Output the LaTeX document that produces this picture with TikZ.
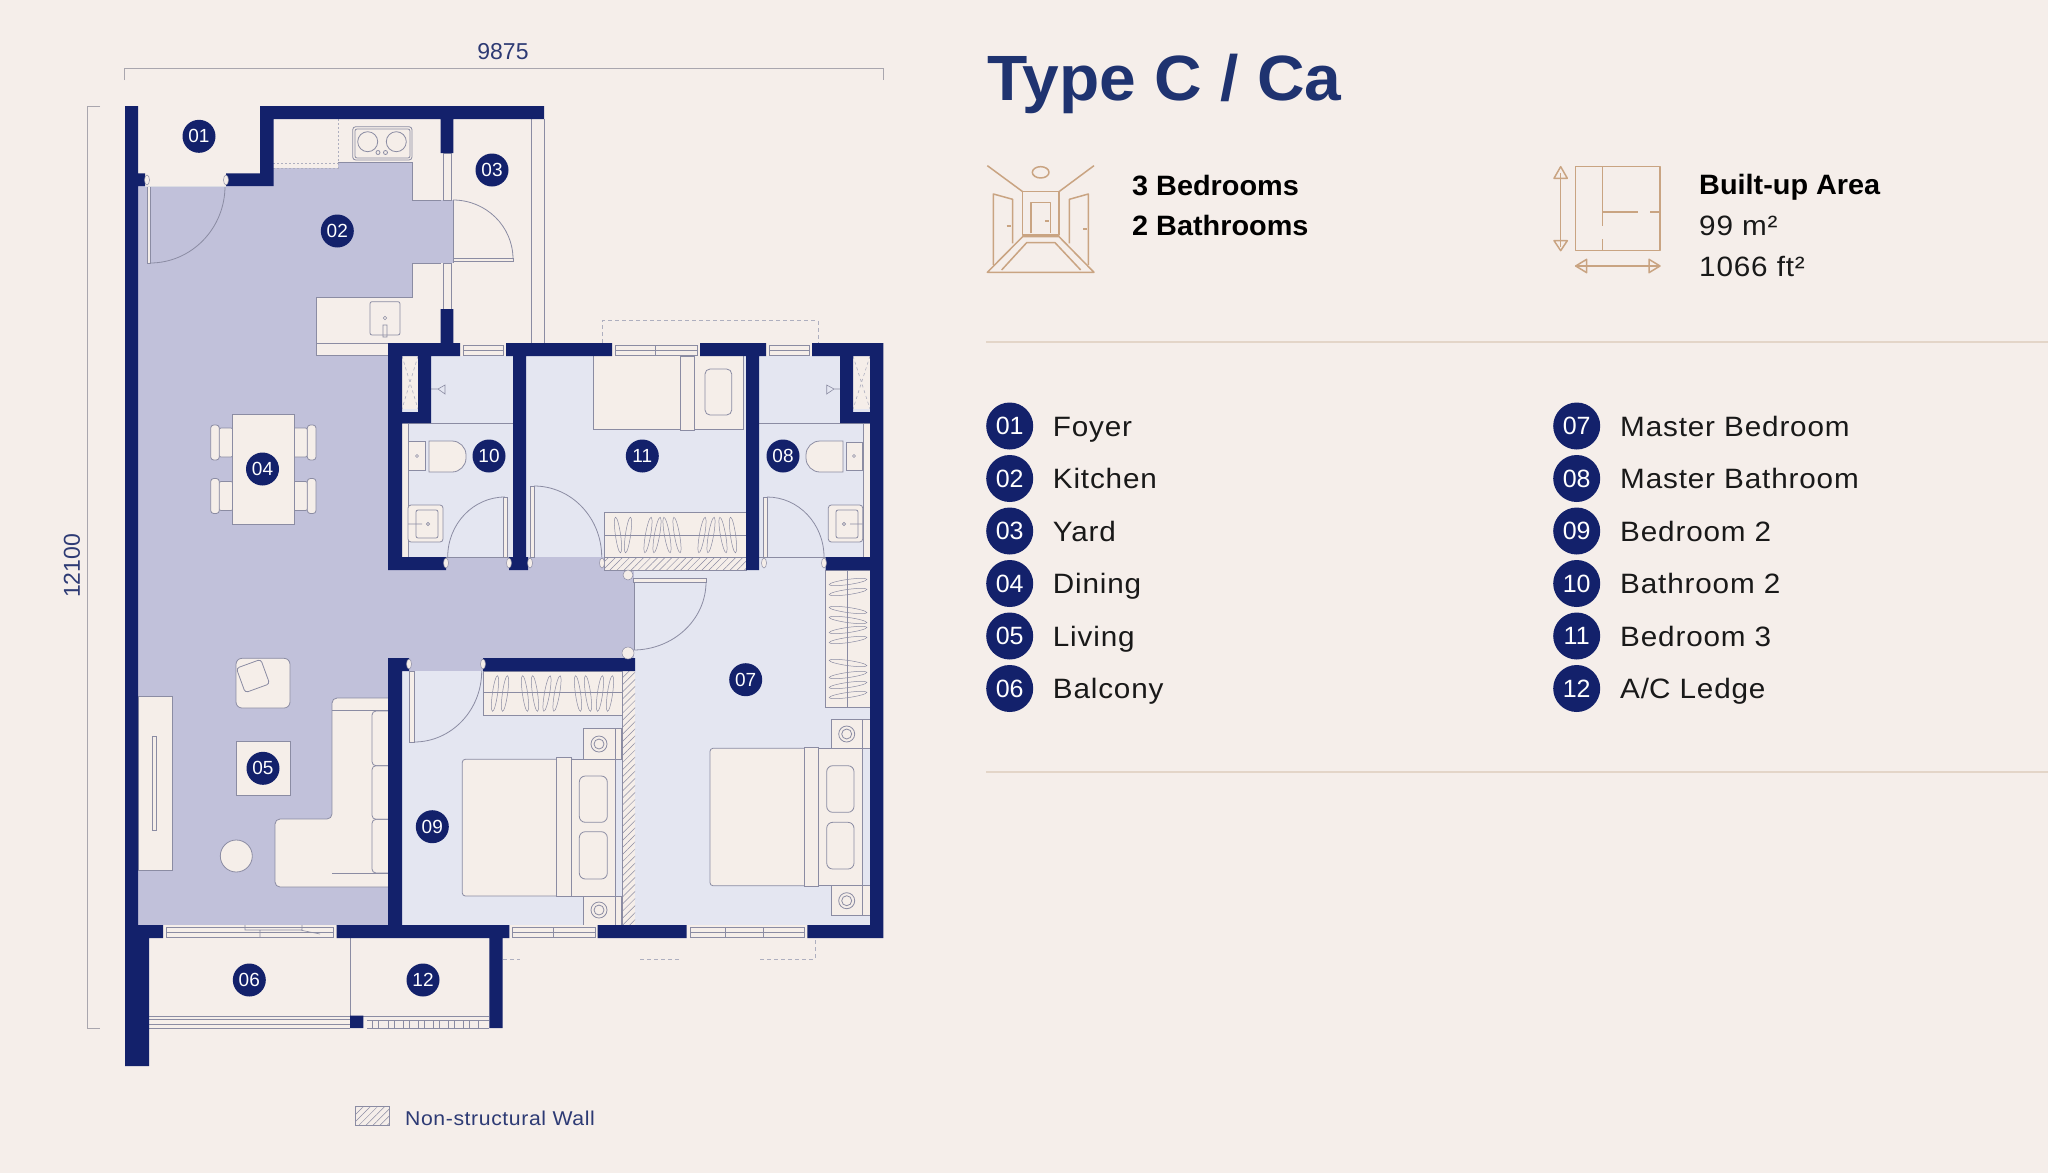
\documentclass[tikz,border=0pt]{standalone}
\usepackage{fontspec}
\usetikzlibrary{calc,patterns.meta}
\setmainfont{Liberation Sans}
\newfontfamily\lblf[FakeStretch=1.06,LetterSpace=3]{Liberation Sans}
\newfontfamily\hdrf[FakeStretch=1.03]{Liberation Sans}
\definecolor{bgc}{HTML}{F5EEEA}
\definecolor{navy}{HTML}{13216B}
\definecolor{purp}{HTML}{C1C1DA}
\definecolor{lite}{HTML}{E4E6F1}
\definecolor{cream}{HTML}{F5EEE9}
\definecolor{lineg}{HTML}{8B8CA3}
\definecolor{dimg}{HTML}{A9A6AE}
\definecolor{tan}{HTML}{C9A482}
\definecolor{rulec}{HTML}{E3D5C8}
\definecolor{titlec}{HTML}{1F3370}
\definecolor{dimt}{HTML}{2D3A74}
\tikzset{
  ln/.style={draw=lineg,line width=.8pt},
  faint/.style={draw=lineg!70,line width=.6pt},
  furn/.style={fill=cream,draw=lineg,line width=.8pt},
  dimln/.style={draw=dimg,line width=.9pt},
  iconln/.style={draw=tan,line width=1.5pt,line join=round},
  plabel/.style={circle,fill=navy,text=white,minimum size=33pt,inner sep=0pt,font=\fontsize{19}{20}\selectfont},
  keyb/.style={circle,fill=navy,text=white,minimum size=47pt,inner sep=0pt,font=\fontsize{25}{26}\selectfont},
  keyt/.style={anchor=base west,inner sep=0pt,text=black!90,font=\lblf\fontsize{28}{32}\selectfont},
  hatchf/.style={pattern={Lines[angle=45,distance=5pt,line width=.5pt]},pattern color=lineg},
}
\newcommand\qarc[3]{\draw[ln] #1 .. controls ($#1!0.5523!#2$) and ($#3!0.5523!#2$) .. #3;}
\newcommand\hang[3]{\draw[draw=lineg,line width=.5pt,rotate around={#3:(#1,#2)}] (#1,#2) ellipse (2.6 and 18);}
\newcommand\hangh[3]{\draw[draw=lineg,line width=.5pt,rotate around={#3:(#1,#2)}] (#1,#2) ellipse (19 and 2.6);}
\newcommand\hwin[3]{\fill[cream] (#1,#3) rectangle (#2,#3+13);
  \draw[ln,line width=.6pt] (#1+3,#3+2) rectangle (#2-3,#3+12) (#1+3,#3+7) -- (#2-3,#3+7);}
\newcommand\vwin[2]{\fill[cream] (441,#1) rectangle (453,#2);
  \draw[ln,line width=.6pt] (443,#1) rectangle (451,#2);}
\newcommand\jamb[2]{\draw[fill=cream,draw=lineg,line width=.5pt] (#1,#2) ellipse (2.5 and 5);}
\begin{document}
\begin{tikzpicture}[x=1pt,y=-1pt]
\useasboundingbox (0,0) rectangle (2048,1173);
\fill[bgc] (0,0) rectangle (2048,1173);

% --- dimensions
\draw[dimln] (124.5,80) -- (124.5,68) -- (883,68) -- (883,80);
\draw[dimln] (100,106) -- (87.5,106) -- (87.5,1028) -- (100,1028);
\node[text=dimt,font=\fontsize{23}{24}\selectfont,inner sep=0pt] (dimw) at (503,52) {9875};
\node[text=dimt,font=\fontsize{23}{24}\selectfont,inner sep=0pt,rotate=90] (dimh) at (72,566) {12100};

% --- floor fills
\fill[purp] (138,186) -- (273,186) -- (273,168) -- (338,168) -- (338,162) -- (412,162) -- (412,200) -- (453,200) -- (453,263) -- (412,263) -- (412,297) -- (316,297) -- (316,355) -- (388,355) -- (388,557) -- (634,557) -- (634,671) -- (402,671) -- (402,925) -- (138,925) -- cycle;
\fill[lite] (402,671) rectangle (622,925);
\fill[lite] (634,557) rectangle (870,925);
\fill[lite] (402,356) rectangle (513,557);
\fill[lite] (526,356) rectangle (746,557);
\fill[lite] (759,356) rectangle (870,557);

% --- kitchen
\draw[ln] (338,162) -- (412,162) -- (412,200) -- (441,200);
\draw[ln] (441,263) -- (412,263) -- (412,297) -- (316,297) -- (316,355) -- (388,355);
\draw[ln] (316,343) -- (388,343);
\draw[faint,dashed,dash pattern=on 2pt off 2pt] (338,119) -- (338,168) -- (273,168);
\draw[faint,dash pattern=on 2pt off 2pt] (273,163) -- (338,163);
\draw[furn,rounded corners=3pt] (352.7,126.7) rectangle (412,160);
\draw[ln,rounded corners=2pt] (355,129) rectangle (410,158);
\draw[ln] (367.7,141.7) circle (10) (396.3,141.7) circle (10) (378,152.5) circle (2) (385.5,152.5) circle (2);
\draw[ln,rounded corners=2pt] (370,301.7) rectangle (400,335);
\draw[ln,line width=.6pt] (385,318) circle (1.8) (383,325) rectangle (387,337);
% yard
\draw[ln] (531,119) -- (531,343) (544,119) -- (544,343);
\draw[ln] (453,200) -- (453,263);
\vwin{153}{200}\vwin{263}{309}
\draw[furn,line width=.6pt] (453,258) rectangle (513,261);
\qarc{(453,200)}{(513,200)}{(513,259)}
% foyer door
\draw[furn,line width=.6pt] (147,186) rectangle (150,263);
\qarc{(150,263)}{(225,263)}{(225,186)}
\draw[draw=white!70!lineg,line width=.6pt] (145,186) -- (226,186);

% --- living / dining furniture
\foreach \yy in {425,478.5}{
  \draw[furn,rounded corners=2pt] (219,\yy+3) rectangle (233,\yy+32);
  \draw[furn,rounded corners=3pt] (210.7,\yy) rectangle (219.3,\yy+35);
  \draw[furn,rounded corners=2pt] (293,\yy+3) rectangle (307.5,\yy+32);
  \draw[furn,rounded corners=3pt] (307.3,\yy) rectangle (316,\yy+35);
}
\draw[furn] (232.3,414) rectangle (294,524);
\draw[furn,rounded corners=6pt] (236,658.3) rectangle (290,708);
\draw[furn,rounded corners=3pt,rotate around={20:(253,676)}] (240,663) rectangle (266,689);
\draw[furn] (236,741.7) rectangle (290,795.7);
\draw[furn] (236.3,856) circle (16);
\draw[furn] (138,696.7) rectangle (172.3,870.7);
\draw[ln,line width=.6pt] (152.3,736) rectangle (156.3,830.7);
\draw[furn,rounded corners=5pt] (388,698) -- (332,698) -- (332,819) -- (275,819) -- (275,887) -- (388,887);
\draw[ln,rounded corners=4pt] (388,710.7) -- (332,710.7);
\draw[ln,rounded corners=4pt] (388,873) -- (332,873);
\draw[ln,rounded corners=4pt] (388,711) -- (372,711) -- (372,765.7) -- (388,765.7);
\draw[ln,rounded corners=4pt] (388,765.7) -- (372,765.7) -- (372,819.3) -- (388,819.3);
\draw[ln,rounded corners=4pt] (388,819.3) -- (372,819.3) -- (372,873) -- (388,873);

% --- bathroom 2
\fill[cream] (402,423) rectangle (408,557);
\draw[ln] (408,423) -- (408,557);
\draw[ln] (402,423) -- (513,423);
\draw[ln] (402,557) -- (513,557);
\fill[cream] (402,356) rectangle (418,409);
\draw[faint,dashed,dash pattern=on 3pt off 3pt] (402,356) -- (418,409) (418,356) -- (402,409);
\draw[ln,line width=.6pt] (431,389) -- (438,389) (438,389) -- (445,385) -- (445,394) -- cycle;
\draw[furn] (408,441.7) rectangle (425,470);
\draw[furn] (429,441) {[rounded corners=14pt] -- (466,441) -- (466,472)} -- (429,472) -- cycle;
\draw[ln,line width=.6pt] (417,456) circle (1.5);
\draw[furn,rounded corners=3pt] (408,505) rectangle (443,542);
\draw[ln,rounded corners=2pt] (416,510) rectangle (438,538);
\draw[ln,line width=.6pt] (408,524) -- (422,524) (428,524) circle (1.6);
\draw[furn,line width=.6pt] (503,497) rectangle (507,557);
\qarc{(447.7,557)}{(447.7,497)}{(505,497)}

% --- master bathroom
\fill[cream] (863,423) rectangle (870,557);
\draw[ln] (863,423) -- (863,557);
\draw[ln] (759,423) -- (840,423) (840,423) -- (870,423);
\draw[ln] (759,557) -- (826,557);
\fill[cream] (853,356) rectangle (870,409);
\draw[faint,dashed,dash pattern=on 3pt off 3pt] (853,356) -- (870,409) (870,356) -- (853,409);
\draw[ln,line width=.6pt] (840,389) -- (834,389) (834,389) -- (826.7,385) -- (826.7,394) -- cycle;
\draw[furn] (846,442) rectangle (862.7,470);
\draw[furn] (843,441) {[rounded corners=14pt] -- (806,441) -- (806,472)} -- (843,472) -- cycle;
\draw[ln,line width=.6pt] (854,456) circle (1.5);
\draw[furn,rounded corners=3pt] (828.3,505) rectangle (862.7,542);
\draw[ln,rounded corners=2pt] (836,510) rectangle (858,538);
\draw[ln,line width=.6pt] (862.7,524) -- (850,524) (844,524) circle (1.6);
\draw[furn,line width=.6pt] (763,497) rectangle (767,557);
\qarc{(767,497)}{(824,497)}{(824,557)}

% --- bedroom 3
\draw[furn] (593,356) -- (593,429) -- (743,429) -- (743,356);
\draw[furn] (680.7,356) rectangle (694,430);
\draw[furn,rounded corners=5pt] (705,369) rectangle (731.7,415);
\draw[furn,line width=.6pt] (530.7,486) rectangle (534,557);
\qarc{(534,486)}{(601.7,486)}{(601.7,557)}
\draw[furn] (604,512.3) rectangle (746,557);
\draw[ln,line width=.6pt] (604,535) -- (746,535);
\foreach \hx/\ha in {618/8,628/-8,648/-10,657/-10,667/10,677/10,702/-10,711/-10,723/10,733/8}{\hang{\hx}{535}{\ha}}

% --- bedroom 2
\draw[furn,line width=.6pt] (409.3,671) rectangle (414,742.3);
\qarc{(414,742)}{(481.7,742)}{(481.7,671)}
\draw[furn] (483.3,671) rectangle (622,715.7);
\draw[ln,line width=.6pt] (483.3,692.3) -- (622,692.3);
\foreach \hx/\ha in {495/-8,505/-8,525/8,535/8,547/-10,557/-10,578/8,588/8,600/-8,610/-8}{\hang{\hx}{693.5}{\ha}}
\draw[furn] (583.3,728.3) rectangle (621.7,759.3);
\draw[furn] (583.3,896) rectangle (621.7,925);
\draw[ln] (599,744) circle (8) (599,744) circle (5);
\draw[ln] (599,910) circle (8) (599,910) circle (5);
\draw[ln] (615,728) -- (615,925);
\draw[furn,rounded corners=3pt] (462.3,759.3) rectangle (576,896);
\draw[furn] (556,757.5) rectangle (571.7,896.5);
\draw[furn] (571.7,759.3) rectangle (615,896);
\draw[furn,rounded corners=6pt] (579.3,776) rectangle (607.3,822.3);
\draw[furn,rounded corners=6pt] (579.3,831.7) rectangle (607.3,879);

% --- master bedroom
\draw[furn] (831.7,719) rectangle (870,748.3);
\draw[furn] (831.7,885.7) rectangle (870,915.7);
\draw[ln] (846.7,734) circle (8) (846.7,734) circle (5);
\draw[ln] (846.7,900.7) circle (8) (846.7,900.7) circle (5);
\draw[ln] (862.3,719) -- (862.3,916);
\draw[furn,rounded corners=3pt] (710,748.3) rectangle (808,885.7);
\draw[furn] (804,747) rectangle (818.3,886.5);
\draw[furn] (818.3,748.3) rectangle (862.3,885.7);
\draw[furn,rounded corners=6pt] (826.7,765.7) rectangle (854,812.3);
\draw[furn,rounded corners=6pt] (826.7,822.3) rectangle (854,869);
\draw[furn] (825.7,570) rectangle (870,707.7);
\draw[ln,line width=.6pt] (847.7,570) -- (847.7,707.7);
\foreach \hy/\ha in {582/8,592/8,610/-8,620/-8,630/8,640/8,663/-8,675/8,685/8,695/8}{\hangh{848}{\hy}{\ha}}
\draw[furn,line width=.6pt] (633,578) rectangle (706,582);
\qarc{(706,582)}{(706,650)}{(633,650)}
\draw[ln] (634,582) -- (634,650);

% --- non-structural walls
\fill[cream] (622,671) rectangle (635,925);
\fill[cream] (604,557) rectangle (746,570);
\fill[hatchf] (622,671) rectangle (635,925);
\fill[hatchf] (604,557) rectangle (746,570);
\draw[ln,line width=.6pt] (622,671) -- (622,925);
\draw[ln,line width=.6pt] (604,557) rectangle (746,570);

% --- windows
\hwin{460}{506}{343}
\hwin{612}{700}{343}
\draw[ln,line width=.6pt] (655,345) -- (655,355);
\hwin{766}{812}{343}
\hwin{509}{598}{925}
\draw[ln,line width=.6pt] (553,927) -- (553,937);
\hwin{687}{807}{925}
\draw[ln,line width=.6pt] (725.7,927) -- (725.7,937) (763,927) -- (763,937);
\hwin{163}{336}{925}
\draw[ln,line width=.6pt] (245,925) -- (245,930) -- (302,930) -- (302,925) (260,930) -- (260,937) (300,930) -- (320,934);

% --- balcony
\draw[ln,line width=.6pt] (350,938) -- (350,1016);
\foreach \ry in {1016,1019.5,1024,1028}{\draw[ln,line width=.6pt] (149,\ry) -- (350,\ry);}
\draw[ln,line width=.6pt] (363,1016) -- (489,1016) (367,1020) -- (489,1020) (367,1028) -- (489,1028);
\foreach \tx in {372,378,388,394,403,409,418,424,433,439,448,454,463,469,478}{\draw[ln,line width=.5pt] (\tx,1020) -- (\tx,1028);}

% --- faint outlines outside the unit
\draw[faint,dashed,dash pattern=on 4pt off 3pt] (602.7,343) -- (602.7,320.7) -- (818.3,320.7) -- (818.3,343);
\draw[faint,dashed,dash pattern=on 4pt off 3pt] (503,959) -- (520,959) (640,959) -- (680,959) (760,959) -- (815,959) -- (815,938);

% --- structural walls
\fill[navy]
  (125,106) rectangle (138,925)
  (125,925) rectangle (149,1066)
  (125,925) rectangle (163,938)
  (138,173.3) rectangle (145,186)
  (260,106) rectangle (544,119)
  (260,106) rectangle (273.5,186)
  (226,173.3) rectangle (273.5,186)
  (440.7,119) rectangle (453.3,153)
  (440.7,309) rectangle (453.3,343)
  (388,343) rectangle (460,356)
  (506,343) rectangle (612,356)
  (700,343) rectangle (766,356)
  (812,343) rectangle (883.3,356)
  (388,343) rectangle (402,570)
  (388,557) rectangle (446,570)
  (418,356) rectangle (431,423)
  (402,412) rectangle (431,423)
  (509,557) rectangle (528,570)
  (513,343) rectangle (526,570)
  (746,343) rectangle (759,570)
  (840,343) rectangle (853,423)
  (840,412) rectangle (870,423)
  (870,343) rectangle (883.3,938)
  (825.7,557) rectangle (870,570)
  (388,658) rectangle (402,938)
  (388,658) rectangle (409,671)
  (483,658) rectangle (635,671)
  (336.5,925) rectangle (509.3,938)
  (597.7,925) rectangle (686.7,938)
  (807.3,925) rectangle (883.3,938)
  (489.3,938) rectangle (502.7,1028)
  (350,1015.7) rectangle (363.3,1028);

% --- jambs
\jamb{147}{180}\jamb{226}{180}\jamb{446}{563}\jamb{509}{563}\jamb{530}{563}\jamb{602}{563}\jamb{764}{563}\jamb{824}{563}\jamb{409}{664}\jamb{483}{664}
\draw[fill=cream,draw=lineg,line width=.5pt] (628,653) circle (6) (628,575) circle (5);

% --- plan labels
\node[plabel] (p01) at (199,136.3) {01};
\node[plabel] (p02) at (337.3,231) {02};
\node[plabel] (p03) at (492,170) {03};
\node[plabel] (p04) at (262.5,469) {04};
\node[plabel] (p05) at (263,768.3) {05};
\node[plabel] (p06) at (249.3,980) {06};
\node[plabel] (p07) at (745.7,679.7) {07};
\node[plabel] (p08) at (783,456) {08};
\node[plabel] (p09) at (432.3,826.7) {09};
\node[plabel] (p10) at (489,456) {10};
\node[plabel] (p11) at (642.3,456) {11};
\node[plabel] (p12) at (423,980) {12};

% --- legend of plan
\fill[hatchf] (355.7,1106) rectangle (389.3,1125);
\draw[ln,line width=.6pt] (355.7,1106) rectangle (389.3,1125);
\node[anchor=base west,inner sep=0pt,text=dimt,font=\lblf\fontsize{20}{22}\selectfont] (nsw) at (405,1125) {Non-structural Wall};

% --- title and summary
\node[anchor=base west,inner sep=0pt,text=titlec,font=\hdrf\bfseries\fontsize{64}{70}\selectfont] (ttl) at (987,100) {Type C / Ca};
\node[anchor=base west,inner sep=0pt,text=black,font=\hdrf\bfseries\fontsize{28}{32}\selectfont] (bed) at (1132,195) {3 Bedrooms};
\node[anchor=base west,inner sep=0pt,text=black,font=\hdrf\bfseries\fontsize{28}{32}\selectfont] (bath) at (1132,235.7) {2 Bathrooms};
\node[anchor=base west,inner sep=0pt,text=black,font=\hdrf\bfseries\fontsize{28}{32}\selectfont] (bua) at (1699,194) {Built-up Area};
\node[keyt] (m2) at (1699,235.7) {99 m²};
\node[keyt] (ft2) at (1699,276) {1066 ft²};

% --- rooms icon
\begin{scope}[shift={(970,20)},x=.3333pt,y=-.3333pt]
\draw[iconln] (52,437) -- (158,515) (372,437) -- (267,515);
\draw[iconln] (212,457) ellipse (25 and 17);
\draw[iconln] (158,515) rectangle (267,645);
\draw[iconln] (183,640) -- (183,548) -- (242,548) -- (242,640);
\draw[iconln] (70,735) -- (70,522) -- (128,538) -- (128,670);
\draw[iconln] (355,735) -- (355,522) -- (298,538) -- (298,670);
\draw[iconln] (52,757) -- (372,757) -- (267,650) -- (158,650) -- cycle;
\draw[iconln] (95,750) -- (170,668) -- (255,668) -- (332,750);
\draw[iconln] (110,618) -- (122,618) (225,603) -- (236,603) (340,627) -- (350,627);
\end{scope}

% --- area icon
\begin{scope}[shift={(1530,140)},x=.3333pt,y=-.3333pt]
\draw[iconln] (137,80) rectangle (390,332);
\draw[iconln] (218,80) -- (218,258) (218,298) -- (218,332);
\draw[iconln] (218,216) -- (325,216) (360,216) -- (390,216);
\draw[iconln] (92,100) -- (92,320);
\draw[iconln] (72,115) -- (92,80) -- (112,115) -- cycle;
\draw[iconln] (72,302) -- (92,332) -- (112,302) -- cycle;
\draw[iconln] (137,378) -- (390,378);
\draw[iconln] (170,358) -- (137,378) -- (170,398) -- cycle;
\draw[iconln] (357,358) -- (390,378) -- (357,398) -- cycle;
\end{scope}

% --- rules
\draw[draw=rulec,line width=1.2pt] (986,342) -- (2048,342);
\draw[draw=rulec,line width=1.2pt] (986,772) -- (2048,772);

% --- key
\foreach \n/\lab [count=\i from 0] in {01/Foyer,02/Kitchen,03/Yard,04/Dining,05/Living,06/Balcony}{
  \node[keyb] (k\n) at (1009.7,426+52.5*\i) {\n};
  \node[keyt] (t\n) at (1052.7,436+52.5*\i) {\lab};
}
\foreach \n/\lab [count=\i from 0] in {07/Master Bedroom,08/Master Bathroom,09/Bedroom 2,10/Bathroom 2,11/Bedroom 3,12/A\slash C Ledge}{
  \node[keyb] (k\n) at (1576.7,426+52.5*\i) {\n};
  \node[keyt] (t\n) at (1620,436+52.5*\i) {\lab};
}
\end{tikzpicture}
\end{document}
